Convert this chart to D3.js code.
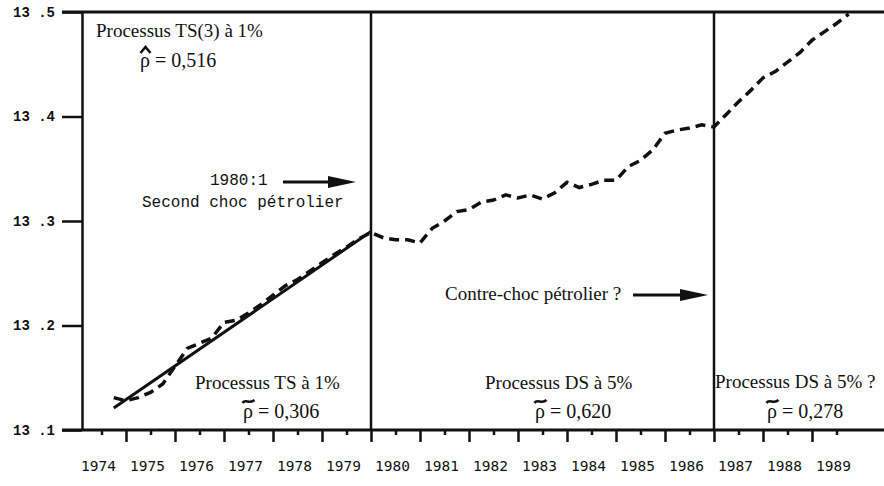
<!DOCTYPE html>
<html lang="fr">
<head>
<meta charset="UTF-8">
<title>PIB trimestriel 1974-1989</title>
<script src="https://d3js.org/d3.v7.min.js"></script>
<style>
  body { margin: 0; background: #fff; }
  svg { display: block; }
  .serif { font-family: "Liberation Serif", "Times New Roman", serif; fill: #111; }
  .mono { font-family: "Liberation Mono", "Courier New", monospace; fill: #111; }
</style>
</head>
<body>
<div id="chart"></div>
<script>
// log du PIB trimestriel, de 1974:4 à 1989:4
const debut = 1974.75;
const logPib = [
  13.131, 13.128, 13.131, 13.136, 13.144, 13.161, 13.178, 13.183, 13.188, 13.203, 13.205,
  13.212, 13.220, 13.229, 13.238, 13.244, 13.252, 13.260, 13.268, 13.275, 13.283, 13.289,
  13.284, 13.282, 13.282, 13.279, 13.293, 13.300, 13.309, 13.311, 13.318, 13.320, 13.325,
  13.322, 13.325, 13.321, 13.327, 13.337, 13.332, 13.335, 13.339, 13.339, 13.352, 13.358,
  13.368, 13.384, 13.387, 13.389, 13.392, 13.390,
  13.402, 13.414, 13.425, 13.437, 13.443, 13.452, 13.461, 13.473, 13.481, 13.489, 13.498
];
// tendance linéaire du processus TS (1974:4 -> 1980:1)
const tendancePeriodes = [1974.75, 1980.0];
const tendanceValeurs = [13.121, 13.290];
const ruptures = [1980.0, 1987.0];
const annees = d3.range(1974, 1990);
const yTicks = [13.1, 13.2, 13.3, 13.4, 13.5];

const width = 884, height = 486;
const svg = d3.select('#chart').append('svg')
  .attr('width', width).attr('height', height);

const x = d3.scaleLinear().domain([1974, 1990]).range([77, 861]);
const y = d3.scaleLinear().domain([13.1, 13.5]).range([430, 12]);

// cadre haut et bas
svg.append('line').attr('x1', 62).attr('x2', width)
  .attr('y1', y(13.5)).attr('y2', y(13.5))
  .attr('stroke', '#111').attr('stroke-width', 3);
svg.append('line').attr('x1', 62).attr('x2', width)
  .attr('y1', y(13.1)).attr('y2', y(13.1))
  .attr('stroke', '#111').attr('stroke-width', 3);

// axe vertical
const yAxis = svg.append('g').attr('transform', 'translate(82,0)')
  .call(d3.axisLeft(y).tickValues(yTicks).tickSize(20).tickSizeOuter(0).tickPadding(7)
    .tickFormat(d => d3.format('.1f')(d).replace('.', ' .')));
yAxis.select('.domain').attr('stroke', '#111').attr('stroke-width', 2.5);
yAxis.selectAll('.tick line').attr('stroke', '#111').attr('stroke-width', 2.5);
yAxis.selectAll('.tick text').attr('class', 'mono').attr('font-size', 14).attr('font-weight', 'bold');

// graduations horizontales : années (longues) et semestres (courtes)
const xLong = svg.append('g').attr('transform', `translate(0,${y(13.1)})`)
  .call(d3.axisBottom(x).tickValues(d3.range(1975, 1990)).tickSize(12).tickFormat(''));
const xCourt = svg.append('g').attr('transform', `translate(0,${y(13.1)})`)
  .call(d3.axisBottom(x).tickValues(annees.map(a => a + 0.5)).tickSize(5).tickFormat(''));
[xLong, xCourt].forEach(g => {
  g.select('.domain').remove();
  g.selectAll('.tick line').attr('stroke', '#111').attr('stroke-width', 2.5);
});

svg.append('g').selectAll('text').data(annees).enter().append('text')
  .attr('x', d => x(d + 0.5) - 3).attr('y', 471)
  .attr('text-anchor', 'middle')
  .style('font-family', '"DejaVu Sans Mono", monospace').style('font-size', '14.5px')
  .attr('fill', '#111')
  .text(d => d);

// ruptures
svg.append('g').selectAll('line').data(ruptures).enter().append('line')
  .attr('x1', d => x(d)).attr('x2', d => x(d))
  .attr('y1', y(13.5)).attr('y2', y(13.1))
  .attr('stroke', '#111').attr('stroke-width', 2.5);

// série et tendance
const ligne = d3.line().x(d => x(d.t)).y(d => y(d.v));
const serie = logPib.map((v, i) => ({ t: debut + i / 4, v }));
const tendance = tendancePeriodes.map((t, i) => ({ t, v: tendanceValeurs[i] }));

svg.append('path').datum(tendance).attr('d', ligne)
  .attr('fill', 'none').attr('stroke', '#111').attr('stroke-width', 3);
svg.append('path').datum(serie).attr('d', ligne)
  .attr('fill', 'none').attr('stroke', '#111').attr('stroke-width', 3.5)
  .attr('stroke-dasharray', '10,6');

// flèches
function fleche(x1, x2, yy) {
  svg.append('line').attr('x1', x1).attr('x2', x2 - 20).attr('y1', yy).attr('y2', yy)
    .attr('stroke', '#111').attr('stroke-width', 3);
  svg.append('path')
    .attr('d', `M${x2 - 28},${yy - 6}L${x2},${yy}L${x2 - 28},${yy + 6}Z`)
    .attr('fill', '#111');
}
fleche(283, x(1980) - 15, 182);
fleche(633, x(1987) - 6, 295);

// annotations
function texte(cls, size, xx, yy, t) {
  svg.append('text').attr('class', cls).attr('x', xx).attr('y', yy)
    .style('font-size', size + 'px').text(t);
}
function rho(xx, yy, valeur, accent) {
  texte('serif', 20, xx, yy, 'ρ = ' + valeur);
  const cx = xx + 5.5;
  const d = accent === 'chapeau'
    ? `M${cx - 5},${yy - 14}L${cx},${yy - 20}L${cx + 5},${yy - 14}`
    : `M${cx - 6},${yy - 15}C${cx - 3},${yy - 20} ${cx + 1},${yy - 13} ${cx + 6},${yy - 18}`;
  svg.append('path').attr('d', d).attr('fill', 'none')
    .attr('stroke', '#111').attr('stroke-width', 2.5);
}

texte('serif', 19, 96, 37, 'Processus TS(3) à 1%');
rho(140, 67, '0,516', 'chapeau');

texte('mono', 16, 210, 185, '1980:1');
texte('mono', 16, 142, 207, 'Second choc pétrolier');

texte('serif', 19, 445, 300, 'Contre-choc pétrolier ?');

texte('serif', 19, 195, 389, 'Processus TS à 1%');
rho(243, 418, '0,306', 'tilde');
texte('serif', 19, 485, 389, 'Processus DS à 5%');
rho(535, 418, '0,620', 'tilde');
texte('serif', 19, 715, 388, 'Processus DS à 5% ?');
rho(767, 418, '0,278', 'tilde');
</script>
</body>
</html>
